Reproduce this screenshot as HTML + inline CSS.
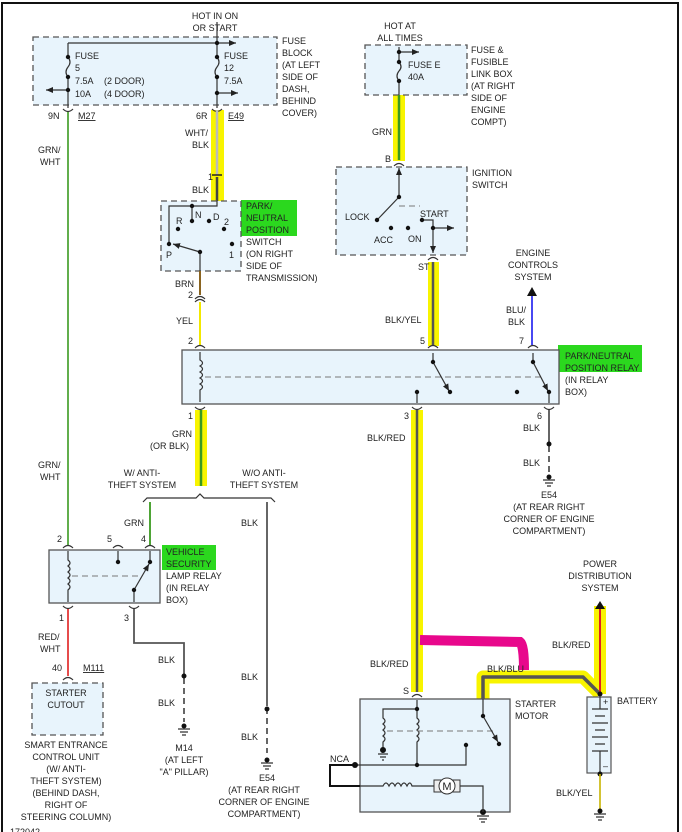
<!DOCTYPE html>
<html><head><meta charset="utf-8"><style>
html,body{margin:0;padding:0;background:#fff}
svg{display:block}
text{font-family:"Liberation Sans",Arial,sans-serif;font-size:9px;fill:#222}
.c{text-anchor:middle}
.box{fill:#e8f4fc;stroke:#555;stroke-width:1.3;stroke-dasharray:6,4}
.rbox{fill:#e8f4fc;stroke:#555;stroke-width:1.3}
.ln{stroke:#333;stroke-width:1.2;fill:none}
.dl{stroke:#777;stroke-width:1;stroke-dasharray:6,4;fill:none}
</style></head><body>
<svg width="682" height="832" viewBox="0 0 682 832" xmlns="http://www.w3.org/2000/svg">
<defs>
<marker id="a" markerWidth="8" markerHeight="8" refX="7" refY="4" orient="auto" markerUnits="userSpaceOnUse"><path d="M0,1 L7,4 L0,7 Z" fill="#222"/></marker>
</defs>
<rect x="2" y="3" width="676" height="840" fill="none" stroke="#111" stroke-width="2"/>

<!-- highlights -->
<rect x="211" y="110" width="13" height="92" fill="#f8f400"/>
<rect x="393" y="95" width="12" height="66" fill="#f8f400"/>
<rect x="428" y="262" width="11" height="84" fill="#f8f400"/>
<rect x="195" y="410" width="12" height="76" fill="#f8f400"/>
<rect x="411" y="410" width="12" height="282" fill="#f8f400"/>
<rect x="594" y="606" width="12" height="88" fill="#f8f400"/>
<path d="M483,699 L483,677 L583,677 L600,694" fill="none" stroke="#f8f400" stroke-width="13" stroke-linejoin="round"/>
<path d="M420,640 L520,642 Q524,645 524,670" fill="none" stroke="#e8088c" stroke-width="10"/>
<rect x="241" y="200" width="56" height="36" fill="#2bd81e"/>
<rect x="558" y="345" width="84" height="27" fill="#2bd81e"/>
<rect x="162" y="545" width="54" height="25" fill="#2bd81e"/>

<!-- Fuse block -->
<rect class="box" x="33" y="37" width="244" height="68"/>
<text class="c" x="215" y="19">HOT IN ON</text><text class="c" x="215" y="31">OR START</text>
<g><text x="282" y="44">FUSE</text><text x="282" y="56">BLOCK</text><text x="282" y="68">(AT LEFT</text><text x="282" y="80">SIDE OF</text><text x="282" y="92">DASH,</text><text x="282" y="104">BEHIND</text><text x="282" y="116">COVER)</text></g>
<path class="ln" d="M68,43 L68,57 M68,77 L68,108 M68,43 L236,43" marker-end="url(#a)"/>
<path class="ln" d="M68,90 L46,90" marker-end="url(#a)"/>
<path class="ln" d="M68,57 Q72,62 68,67 Q64,72 68,77"/>
<path class="ln" d="M217,22 L217,57 M217,77 L217,108"/>
<path class="ln" d="M217,57 Q221,62 217,67 Q213,72 217,77"/>
<path class="ln" d="M217,93 L238,93" marker-end="url(#a)"/>
<g fill="#111"><circle cx="68" cy="57" r="2.2"/><circle cx="68" cy="77" r="2.2"/><circle cx="68" cy="90" r="2.2"/><circle cx="217" cy="43" r="2.2"/><circle cx="217" cy="57" r="2.2"/><circle cx="217" cy="77" r="2.2"/><circle cx="217" cy="93" r="2.2"/></g>
<text x="75" y="59">FUSE</text><text x="75" y="71">5</text><text x="75" y="84">7.5A</text><text x="104" y="84">(2 DOOR)</text><text x="75" y="97">10A</text><text x="104" y="97">(4 DOOR)</text>
<text x="224" y="59">FUSE</text><text x="224" y="71">12</text><text x="224" y="84">7.5A</text>
<text x="48" y="119">9N</text><text x="78" y="119" text-decoration="underline">M27</text>
<text x="196" y="119">6R</text><text x="228" y="119" text-decoration="underline">E49</text>
<path class="ln" d="M63,109 Q68,114 73,109 M212,109 Q217,114 222,109"/>

<!-- left green wire -->
<line x1="68" y1="112" x2="68" y2="545" stroke="#3a9a20" stroke-width="1.6"/>
<text x="38" y="153">GRN/</text><text x="40" y="165">WHT</text>
<text x="38" y="468">GRN/</text><text x="40" y="480">WHT</text>

<!-- WHT/BLK wire -->
<line x1="217" y1="110" x2="217" y2="175" stroke="#bbb" stroke-width="2.5"/>
<line x1="217" y1="177" x2="217" y2="201" stroke="#444" stroke-width="2.5"/>
<line x1="212" y1="175" x2="222" y2="175" stroke="#222" stroke-width="1.5"/>
<text x="185" y="136">WHT/</text><text x="192" y="148">BLK</text>
<text x="208" y="180">1</text><text x="192" y="193">BLK</text>

<!-- PN switch -->
<rect class="box" x="161" y="201" width="80" height="70"/>
<path class="ln" d="M217,201 L217,206 L169,206 L169,244 M192,206 L192,221 M200,252 L200,271"/>
<path class="ln" d="M200,252 L173,244" marker-end="url(#a)"/>
<g fill="#111"><circle cx="192" cy="206" r="2.2"/><circle cx="192" cy="221" r="2.2"/><circle cx="178" cy="229" r="2.2"/><circle cx="209" cy="221" r="2.2"/><circle cx="224" cy="229" r="2.2"/><circle cx="232" cy="244" r="2.2"/><circle cx="169" cy="244" r="2.2"/><circle cx="200" cy="252" r="2.2"/></g>
<text x="176" y="224">R</text><text x="195" y="218">N</text><text x="213" y="220">D</text><text x="224" y="225">2</text><text x="166" y="258">P</text><text x="229" y="258">1</text>
<g><text x="246" y="209">PARK/</text><text x="246" y="221">NEUTRAL</text><text x="246" y="233">POSITION</text><text x="246" y="245">SWITCH</text><text x="246" y="257">(ON RIGHT</text><text x="246" y="269">SIDE OF</text><text x="246" y="281">TRANSMISSION)</text></g>
<line x1="200" y1="271" x2="200" y2="295" stroke="#8a6420" stroke-width="2"/>
<text x="175" y="287">BRN</text><text x="188" y="298">2</text>
<path class="ln" d="M195,299 Q200,294 205,299 M195,302 Q200,297 205,302"/>
<line x1="200" y1="302" x2="200" y2="345" stroke="#f2e800" stroke-width="2"/>
<text x="176" y="324">YEL</text><text x="188" y="344">2</text>
<path class="ln" d="M195,348 Q200,343 205,348"/>

<!-- Relay -->
<rect class="rbox" x="182" y="350" width="377" height="54"/>
<path class="ln" d="M200,352 L200,360 Q205,363 200,366 Q205,369 200,372 Q205,375 200,378 Q205,381 200,384 Q205,387 200,390 L200,402"/>
<line class="dl" x1="205" y1="377" x2="545" y2="377"/>
<path class="ln" d="M433,362 L433,353 M417,392 L417,403 M549,392 L549,403 M533,362 L533,353"/>
<path class="ln" d="M433,362 L449,391" marker-end="url(#a)"/>
<path class="ln" d="M533,362 L548,391" marker-end="url(#a)"/>
<g fill="#111"><circle cx="433" cy="362" r="2.2"/><circle cx="450" cy="392" r="2.2"/><circle cx="417" cy="392" r="2.2"/><circle cx="517" cy="392" r="2.2"/><circle cx="533" cy="362" r="2.2"/><circle cx="549" cy="392" r="2.2"/></g>
<g><text x="565" y="359">PARK/NEUTRAL</text><text x="565" y="371">POSITION RELAY</text><text x="565" y="383">(IN RELAY</text><text x="565" y="395">BOX)</text></g>

<!-- Fuse E box -->
<rect class="box" x="365" y="45" width="102" height="50"/>
<text class="c" x="400" y="29">HOT AT</text><text class="c" x="400" y="41">ALL TIMES</text>
<path class="ln" d="M399,47 L399,62 M399,81 L399,95"/>
<path class="ln" d="M399,52 L419,52" marker-end="url(#a)"/>
<path class="ln" d="M399,62 Q403,67 399,71 Q395,76 399,81"/>
<g fill="#111"><circle cx="399" cy="52" r="2.2"/><circle cx="399" cy="62" r="2.2"/><circle cx="399" cy="81" r="2.2"/></g>
<text x="408" y="68">FUSE E</text><text x="408" y="80">40A</text>
<g><text x="471" y="53">FUSE &amp;</text><text x="471" y="65">FUSIBLE</text><text x="471" y="77">LINK BOX</text><text x="471" y="89">(AT RIGHT</text><text x="471" y="101">SIDE OF</text><text x="471" y="113">ENGINE</text><text x="471" y="125">COMPT)</text></g>
<line x1="399" y1="95" x2="399" y2="160" stroke="#3a9a20" stroke-width="2.5"/>
<text x="372" y="135">GRN</text><text x="385" y="162">B</text>
<path class="ln" d="M394,166 Q399,161 404,166"/>

<!-- Ignition -->
<rect class="box" x="336" y="167" width="131" height="88"/>
<path class="ln" d="M399,197 L399,168" marker-end="url(#a)"/>
<path class="ln" d="M399,197 L378,219"/>
<line class="dl" x1="399" y1="206" x2="420" y2="206"/>
<path class="ln" d="M422,220 L433,220 L433,253" marker-end="url(#a)"/>
<path class="ln" d="M433,228 L454,228" marker-end="url(#a)"/>
<g fill="#111"><circle cx="399" cy="197" r="2.2"/><circle cx="377" cy="220" r="2.2"/><circle cx="422" cy="220" r="2.2"/><circle cx="433" cy="228" r="2.2"/><circle cx="391" cy="228" r="2.2"/><circle cx="408" cy="228" r="2.2"/></g>
<text x="345" y="220">LOCK</text><text x="420" y="217">START</text><text x="374" y="243">ACC</text><text x="408" y="242">ON</text>
<text x="472" y="176">IGNITION</text><text x="472" y="188">SWITCH</text>
<path class="ln" d="M428,260 Q433,255 438,260"/>
<line x1="433" y1="262" x2="433" y2="345" stroke="#555" stroke-width="2.5"/>
<text x="418" y="270">ST</text><text x="385" y="323">BLK/YEL</text><text x="420" y="344">5</text>
<path class="ln" d="M428,348 Q433,343 438,348 M528,348 Q533,343 538,348"/>
<line x1="532" y1="345" x2="532" y2="296" stroke="#1a1aee" stroke-width="1.6"/>
<path d="M527,296 L532,287 L537,296 Z" fill="#111"/>
<text class="c" x="533" y="256">ENGINE</text><text class="c" x="533" y="268">CONTROLS</text><text class="c" x="533" y="280">SYSTEM</text>
<text x="506" y="313">BLU/</text><text x="508" y="325">BLK</text><text x="519" y="344">7</text>

<!-- below relay -->
<path class="ln" d="M195,407 Q200,412 205,407 M412,407 Q417,412 422,407 M544,407 Q549,412 554,407"/>
<line x1="201" y1="410" x2="201" y2="486" stroke="#3a9a20" stroke-width="2.5"/>
<text x="188" y="419">1</text><text x="172" y="437">GRN</text><text x="150" y="449">(OR BLK)</text>
<line x1="417" y1="410" x2="417" y2="692" stroke="#555" stroke-width="2.5"/>
<text x="404" y="419">3</text><text x="367" y="441">BLK/RED</text><text x="370" y="667">BLK/RED</text>
<line x1="549" y1="410" x2="549" y2="444" stroke="#555" stroke-width="1.8"/>
<line x1="549" y1="446" x2="549" y2="475" stroke="#555" stroke-width="1.8" stroke-dasharray="6,4"/>
<circle cx="549" cy="444" r="2.5" fill="#111"/><circle cx="549" cy="477" r="2.5" fill="#111"/>
<path class="ln" d="M543,480 L555,480 M545,483 L553,483 M547,486 L551,486"/>
<text x="537" y="419">6</text><text x="523" y="431">BLK</text><text x="523" y="466">BLK</text>
<text class="c" x="549" y="498">E54</text><text class="c" x="549" y="510">(AT REAR RIGHT</text><text class="c" x="549" y="522">CORNER OF ENGINE</text><text class="c" x="549" y="534">COMPARTMENT)</text>

<!-- bracket -->
<path class="ln" d="M143,502 L147,498 L196,498 L200,494 L204,498 L271,498 L275,502" stroke="#555"/>
<text class="c" x="142" y="476">W/ ANTI-</text><text class="c" x="142" y="488">THEFT SYSTEM</text>
<text class="c" x="264" y="476">W/O ANTI-</text><text class="c" x="264" y="488">THEFT SYSTEM</text>
<line x1="150" y1="502" x2="150" y2="545" stroke="#3a9a20" stroke-width="1.8"/>
<text x="124" y="526">GRN</text>
<line x1="267" y1="502" x2="267" y2="706" stroke="#555" stroke-width="1.8"/>
<line x1="267" y1="708" x2="267" y2="753" stroke="#555" stroke-width="1.8" stroke-dasharray="6,4"/>
<circle cx="267" cy="709" r="2.5" fill="#111"/><circle cx="267" cy="760" r="2.5" fill="#111"/>
<path class="ln" d="M261,763 L273,763 M263,766 L271,766 M265,769 L269,769"/>
<text x="241" y="526">BLK</text><text x="241" y="680">BLK</text><text x="241" y="740">BLK</text>
<text class="c" x="267" y="781">E54</text><text class="c" x="264" y="793">(AT REAR RIGHT</text><text class="c" x="264" y="805">CORNER OF ENGINE</text><text class="c" x="264" y="817">COMPARTMENT)</text>

<!-- vehicle security relay -->
<path class="ln" d="M63,548 Q68,543 73,548 M113,548 Q118,543 123,548 M145,548 Q150,543 155,548"/>
<text x="57" y="542">2</text><text x="107" y="542">5</text><text x="141" y="542">4</text>
<rect class="rbox" x="49" y="550" width="111" height="53"/>
<path class="ln" d="M68,551 L68,560 Q72,563 68,566 Q72,569 68,572 Q72,575 68,578 Q72,581 68,584 Q72,587 68,590 L68,602 M118,551 L118,562 M150,551 L150,562 M134,590 L134,602"/>
<line class="dl" x1="72" y1="576" x2="140" y2="576"/>
<path class="ln" d="M134,590 L149,564" marker-end="url(#a)"/>
<g fill="#111"><circle cx="118" cy="562" r="2.2"/><circle cx="150" cy="562" r="2.2"/><circle cx="134" cy="590" r="2.2"/></g>
<g><text x="166" y="555">VEHICLE</text><text x="166" y="567">SECURITY</text><text x="166" y="579">LAMP RELAY</text><text x="166" y="591">(IN RELAY</text><text x="166" y="603">BOX)</text></g>
<path class="ln" d="M63,606 Q68,611 73,606 M129,606 Q134,611 139,606"/>
<text x="59" y="621">1</text><text x="124" y="621">3</text>
<line x1="68" y1="609" x2="68" y2="676" stroke="#e02020" stroke-width="1.6"/>
<text x="38" y="640">RED/</text><text x="40" y="652">WHT</text>
<text x="52" y="671">40</text><text x="83" y="671" text-decoration="underline">M111</text>
<path class="ln" d="M63,680 Q68,675 73,680"/>
<rect class="box" x="32" y="683" width="71" height="52"/>
<text class="c" x="66" y="696">STARTER</text><text class="c" x="66" y="708">CUTOUT</text>
<g class="c"><text class="c" x="66" y="748">SMART ENTRANCE</text><text class="c" x="66" y="760">CONTROL UNIT</text><text class="c" x="66" y="772">(W/ ANTI-</text><text class="c" x="66" y="784">THEFT SYSTEM)</text><text class="c" x="66" y="796">(BEHIND DASH,</text><text class="c" x="66" y="808">RIGHT OF</text><text class="c" x="66" y="820">STEERING COLUMN)</text></g>
<text x="10" y="835">172042</text>
<path d="M134,609 L134,643 L184,643 L184,676" fill="none" stroke="#555" stroke-width="1.8"/>
<line x1="184" y1="678" x2="184" y2="722" stroke="#555" stroke-width="1.8" stroke-dasharray="6,4"/>
<circle cx="184" cy="676" r="2.5" fill="#111"/><circle cx="184" cy="726" r="2.5" fill="#111"/>
<path class="ln" d="M178,729 L190,729 M180,732 L188,732 M182,735 L186,735"/>
<text x="158" y="663">BLK</text><text x="158" y="706">BLK</text>
<text class="c" x="184" y="751">M14</text><text class="c" x="184" y="763">(AT LEFT</text><text class="c" x="184" y="775">"A" PILLAR)</text>

<!-- starter motor -->
<path d="M483,699 L483,677 L583,677 L600,694" fill="none" stroke="#555" stroke-width="3.5" stroke-linejoin="round"/>
<text x="487" y="672">BLK/BLU</text>
<text x="403" y="694">S</text>
<path class="ln" d="M412,697 Q417,692 422,697"/>
<rect class="rbox" x="360" y="699" width="150" height="113"/>
<text x="515" y="707">STARTER</text><text x="515" y="719">MOTOR</text>
<path class="ln" d="M417,709 L417,700 M417,709 L383,709 L383,718 Q387,721 383,724 Q387,727 383,730 Q387,733 383,736 Q387,739 383,742 L383,750 M417,709 L417,718 Q421,721 417,724 Q421,727 417,730 Q421,733 417,736 Q421,739 417,742 L417,765 M355,765 L466,765 L466,745 M483,699 L483,716"/>
<line class="dl" x1="387" y1="731" x2="495" y2="731"/>
<path class="ln" d="M483,716 L498,742" marker-end="url(#a)"/>
<g fill="#111"><circle cx="417" cy="709" r="2.2"/><circle cx="417" cy="765" r="2.2"/><circle cx="466" cy="745" r="2.2"/><circle cx="483" cy="716" r="2.2"/><circle cx="499" cy="744" r="2.2"/><circle cx="383" cy="750" r="3"/><circle cx="355" cy="765" r="3"/><circle cx="483" cy="812" r="3"/></g>
<path class="ln" d="M378,754 L388,754 M380,757 L386,757 M382,760 L384,760 M477,816 L489,816 M479,819 L487,819 M481,822 L485,822"/>
<path d="M355,765 L330,765 L330,786 L360,786" fill="none" stroke="#111" stroke-width="2"/>
<text x="330" y="762">NCA</text>
<path class="ln" d="M360,786 L383,786 Q386,780 389,786 Q392,780 395,786 Q398,780 401,786 Q404,780 407,786 Q410,780 412,786 L434,786 M460,786 L483,786 L483,812"/>
<rect x="434" y="780" width="26" height="12" fill="#eee" stroke="#333" stroke-width="1"/>
<circle cx="447" cy="786" r="8" fill="#fff" stroke="#333" stroke-width="1"/>
<text class="c" x="447" y="790" style="font-size:11px">M</text>

<!-- battery -->
<line x1="600" y1="606" x2="600" y2="694" stroke="#e02020" stroke-width="2"/>
<path d="M595,609 L600,601 L605,609 Z" fill="#111"/>
<text class="c" x="600" y="567">POWER</text><text class="c" x="600" y="579">DISTRIBUTION</text><text class="c" x="600" y="591">SYSTEM</text>
<text x="552" y="648">BLK/RED</text>
<rect x="587" y="697" width="24" height="76" fill="#e8f4fc" stroke="#555" stroke-width="1.2"/>
<path class="ln" d="M600,697 L600,709 M592,709 L608,709 M595,716 L605,716 M592,723 L608,723 M595,730 L605,730 M592,737 L608,737 M595,744 L605,744 M592,751 L608,751 M600,751 L600,772"/>
<text x="603" y="705">+</text><text x="603" y="769">–</text>
<circle cx="600" cy="694" r="2.5" fill="#111"/><circle cx="600" cy="774" r="2.5" fill="#111"/>
<text x="617" y="704">BATTERY</text>
<line x1="600" y1="774" x2="600" y2="810" stroke="#c8b400" stroke-width="1.6"/>
<circle cx="600" cy="811" r="2.5" fill="#111"/>
<path class="ln" d="M594,814 L606,814 M596,817 L604,817 M598,820 L602,820"/>
<text x="556" y="796">BLK/YEL</text>
</svg>
</body></html>
